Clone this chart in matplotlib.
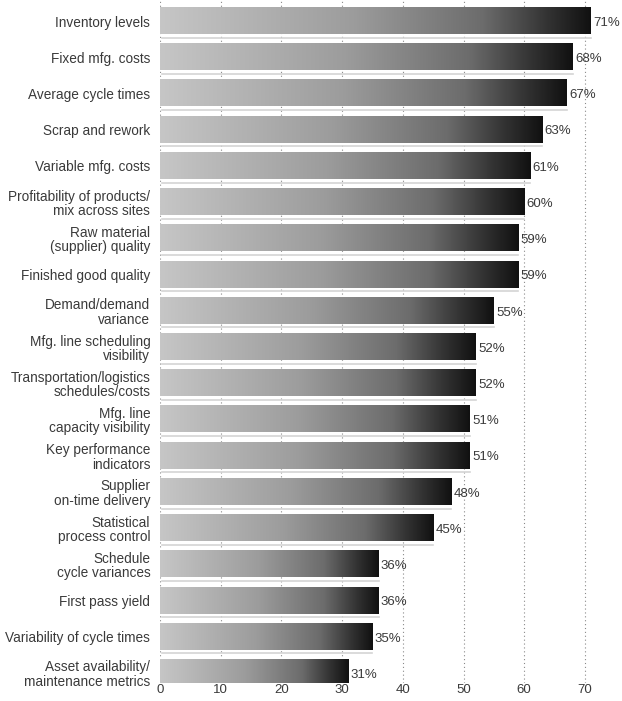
import matplotlib.pyplot as plt
import numpy as np
from matplotlib.colors import LinearSegmentedColormap

plt.rcParams['font.family'] = ['Liberation Sans', 'DejaVu Sans']

labels = [
    "Inventory levels",
    "Fixed mfg. costs",
    "Average cycle times",
    "Scrap and rework",
    "Variable mfg. costs",
    "Profitability of products/\nmix across sites",
    "Raw material\n(supplier) quality",
    "Finished good quality",
    "Demand/demand\nvariance",
    "Mfg. line scheduling\nvisibility",
    "Transportation/logistics\nschedules/costs",
    "Mfg. line\ncapacity visibility",
    "Key performance\nindicators",
    "Supplier\non-time delivery",
    "Statistical\nprocess control",
    "Schedule\ncycle variances",
    "First pass yield",
    "Variability of cycle times",
    "Asset availability/\nmaintenance metrics",
]
values = [71, 68, 67, 63, 61, 60, 59, 59, 55, 52, 52, 51, 51, 48, 45, 36, 36, 35, 31]
xticks = [0, 10, 20, 30, 40, 50, 60, 70]

txt = "#3a3a3a"

# light gray on the left, going black at the end of each bar
cmap = LinearSegmentedColormap.from_list(
    "bar", [(0.0, "#c6c6c6"), (0.45, "#9c9c9c"), (0.75, "#6c6c6c"),
            (0.9, "#333333"), (1.0, "#111111")])

fig = plt.figure(figsize=(6.22, 7.01), dpi=100)
ax = fig.add_axes([160 / 622, 18 / 701, 462 / 622, 683 / 701])

y = np.arange(len(values))
grad = np.linspace(0, 1, 256).reshape(1, -1)
h = 0.36
for yi, v in zip(y, values):
    ax.imshow(grad, cmap=cmap, aspect="auto", interpolation="bilinear",
              extent=(0, v, yi + h, yi - h), zorder=2)
    # thin bevel line under the bar
    ax.plot([0.4, v], [yi + h + 0.1, yi + h + 0.1], color="#d4d4d4", lw=1.2, zorder=1)
    ax.text(v + 0.4, yi + 0.05, f"{v}%", va="center", ha="left",
            fontsize=9.5, color=txt, zorder=3)

for xt in xticks:
    ax.axvline(xt, color="#8a8a8a", lw=0.8, ls=(0, (1, 2.5)), zorder=0)

ax.set_xlim(0, 462 / 6.07)
ax.set_ylim(18 + 10 / 36.2, -21 / 36.2)
ax.set_yticks(y)
ax.set_yticklabels(labels, fontsize=9.8, color=txt, linespacing=1.05)
ax.set_xticks(xticks)
ax.set_xticklabels([str(t) for t in xticks], fontsize=9.5, color=txt)
ax.tick_params(length=0, pad=1)
ax.tick_params(axis="y", pad=7)
for s in ax.spines.values():
    s.set_visible(False)

fig.savefig("out.png", dpi=100)
